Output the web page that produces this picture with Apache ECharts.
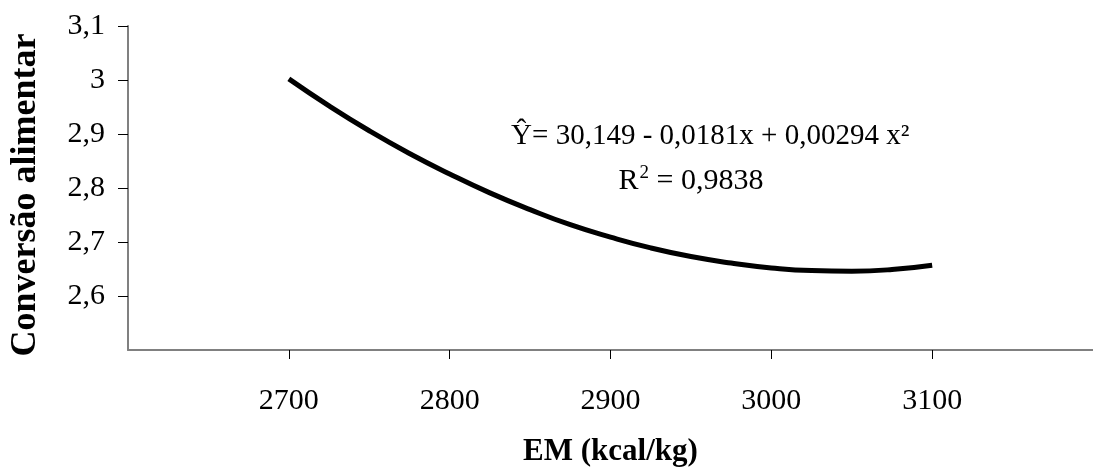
<!DOCTYPE html>
<html>
<head>
<meta charset="utf-8">
<script src="https://cdn.jsdelivr.net/npm/echarts@6/dist/echarts.min.js"></script>
<style>
html,body{margin:0;padding:0;background:#fff;}
#c{width:1093px;height:472px;}
</style>
</head>
<body>
<div id="c"></div>
<script>
// Data
const emValues = [2700, 2725, 2750, 2775, 2800, 2825, 2850, 2875, 2900, 2925, 2950, 2975, 3000, 3025, 3050, 3075, 3100];
const conversion = [3.002, 2.952, 2.906, 2.864, 2.826, 2.791, 2.760, 2.732, 2.709, 2.689, 2.673, 2.661, 2.652, 2.647, 2.646, 2.649, 2.657];
const xTitle = 'EM (kcal/kg)';
const yTitle = 'Conversão alimentar';
const eqLine1 = 'Ŷ= 30,149 - 0,0181x + 0,00294 x²';
const eqLine2Parts = ['R', '2', ' = 0,9838'];

const FONT = '"Liberation Serif", "DejaVu Serif", serif';
const chart = echarts.init(document.getElementById('c'), null, {renderer: 'canvas'});

const fmtY = v => String(Math.round(v * 10) / 10).replace('.', ',');
const fmtX = v => String(Math.round(v));

chart.setOption({
  animation: false,
  backgroundColor: '#ffffff',
  grid: {left: 120, top: 26, width: 981, height: 331, containLabel: false},
  xAxis: {
    type: 'value', min: 2600, max: 3200, interval: 100,
    name: xTitle, nameLocation: 'middle', nameGap: 86,
    nameTextStyle: {fontFamily: FONT, fontSize: 31, fontWeight: 'bold', color: '#000'},
    axisLine: {show: true, lineStyle: {color: '#808080', width: 2}},
    axisTick: {show: true, length: 9, lineStyle: {color: '#000', width: 1}},
    axisLabel: {showMinLabel: false, showMaxLabel: false, margin: 36, formatter: fmtX,
      fontFamily: FONT, fontSize: 30, color: '#000'},
    splitLine: {show: false}
  },
  yAxis: {
    type: 'value', min: 2.5, max: 3.1, interval: 0.1,
    name: yTitle, nameLocation: 'middle', nameGap: 84, nameRotate: 90,
    nameTextStyle: {fontFamily: FONT, fontSize: 36, fontWeight: 'bold', color: '#000', padding: [0, 14, 0, 0]},
    axisLine: {show: true, lineStyle: {color: '#808080', width: 2}},
    axisTick: {show: true, length: 10, lineStyle: {color: '#000', width: 1}},
    axisLabel: {showMinLabel: false, margin: 23, formatter: fmtY,
      fontFamily: FONT, fontSize: 30, color: '#000'},
    splitLine: {show: false}
  },
  series: [{
    type: 'line',
    data: emValues.map((x, i) => [x, conversion[i]]),
    smooth: true,
    symbol: 'none',
    lineStyle: {color: '#000', width: 5},
    z: 3
  }]
});

// Place equation text anchored to data coordinates
const p1 = chart.convertToPixel({gridIndex: 0}, [2962, 2.895]);
const p2 = chart.convertToPixel({gridIndex: 0}, [2950, 2.813]);
chart.setOption({
  graphic: [
    {type: 'text', x: p1[0], y: p1[1], style: {text: eqLine1, font: '29px ' + FONT, fill: '#000', align: 'center', verticalAlign: 'middle'}},
    {type: 'text', x: p2[0], y: p2[1], style: {
      text: '{r|' + eqLine2Parts[0] + '}{s|' + eqLine2Parts[1] + '}{r|' + eqLine2Parts[2] + '}',
      align: 'center', verticalAlign: 'middle', fill: '#000',
      rich: {
        r: {fontFamily: FONT, fontSize: 30, color: '#000', lineHeight: 34},
        s: {fontFamily: FONT, fontSize: 19, color: '#000', verticalAlign: 'top', lineHeight: 34, padding: [0, 0, 0, 1]}
      }
    }}
  ]
});
</script>
</body>
</html>
